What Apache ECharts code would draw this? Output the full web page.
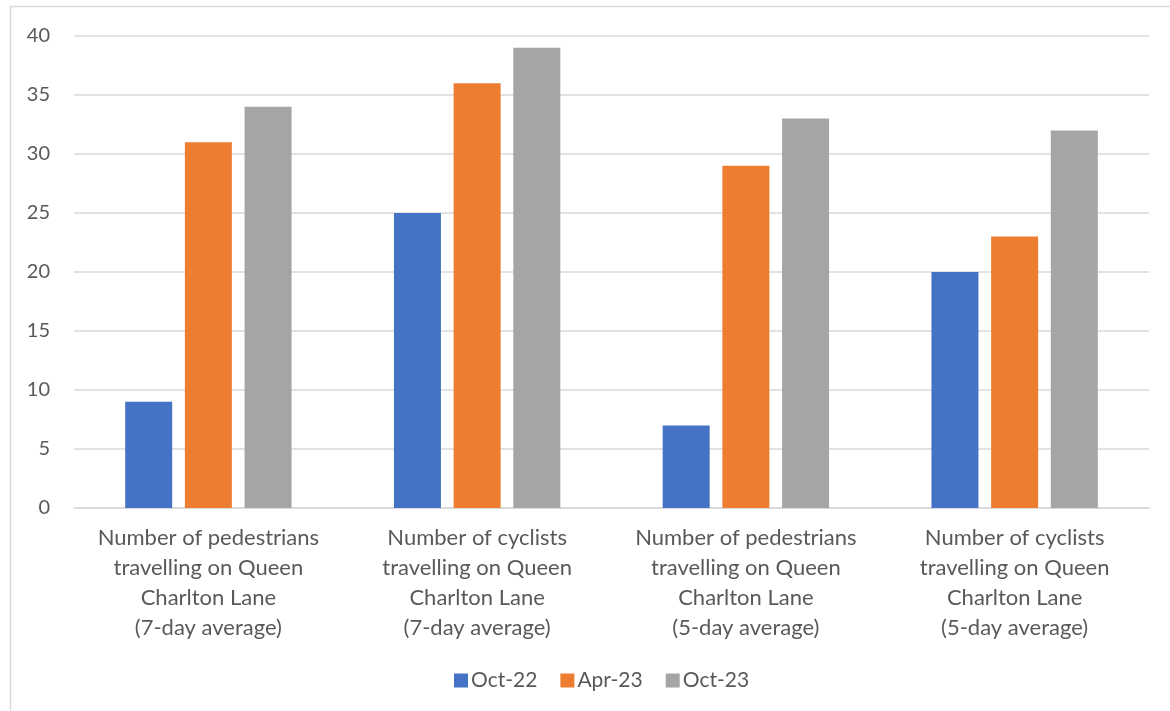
<!DOCTYPE html>
<html>
<head>
<meta charset="utf-8">
<script src="https://cdn.jsdelivr.net/npm/echarts@6/dist/echarts.min.js"></script>
<style>
  html, body { margin: 0; padding: 0; background: #fff; }
  #chart { width: 1170px; height: 711px; }
</style>
</head>
<body>
<div id="chart"></div>
<script>
// Queen Charlton Lane counts, by survey period
const categories = [
  'Number of pedestrians\ntravelling on Queen\nCharlton Lane\n(7-day average)',
  'Number of cyclists\ntravelling on Queen\nCharlton Lane\n(7-day average)',
  'Number of pedestrians\ntravelling on Queen\nCharlton Lane\n(5-day average)',
  'Number of cyclists\ntravelling on Queen\nCharlton Lane\n(5-day average)'
];
const seriesNames = ['Oct-22', 'Apr-23', 'Oct-23'];
const oct22 = [9, 25, 7, 20];
const apr23 = [31, 36, 29, 23];
const oct23 = [34, 39, 33, 32];
const colors = ['#4472C4', '#ED7D31', '#A5A5A5'];

const font = 'Lato, "Open Sans", "Liberation Sans", sans-serif';
const chart = echarts.init(document.getElementById('chart'));

const values = [oct22, apr23, oct23];
chart.setOption({
  animation: false,
  color: colors,
  textStyle: { fontFamily: font, color: '#595959' },
  graphic: [{
    type: 'rect',
    shape: { x: 10.5, y: 6.5, width: 1200, height: 800 },
    style: { fill: 'none', stroke: '#d9d9d9', lineWidth: 1.5 },
    silent: true
  }],
  grid: { left: 74, right: 21, top: 36, bottom: 203 },
  legend: {
    bottom: 15,
    left: 449,
    itemWidth: 14,
    itemHeight: 14,
    itemGap: 23,
    icon: 'rect',
    textStyle: { fontFamily: font, fontSize: 21, color: '#595959', padding: [0, 0, 0, -2] },
    data: seriesNames
  },
  xAxis: {
    type: 'category',
    data: categories,
    axisLine: { lineStyle: { color: '#d9d9d9', width: 1.5 } },
    axisTick: { show: false },
    axisLabel: {
      interval: 0,
      margin: 15,
      fontFamily: font,
      fontSize: 22,
      lineHeight: 30,
      color: '#595959'
    }
  },
  yAxis: {
    type: 'value',
    min: 0,
    max: 40,
    interval: 5,
    axisLine: { show: false },
    axisTick: { show: false },
    splitLine: { lineStyle: { color: '#d9d9d9', width: 1.5 } },
    axisLabel: { margin: 24, fontFamily: font, fontSize: 20, color: '#595959' }
  },
  series: seriesNames.map((name, i) => ({
    name,
    type: 'bar',
    data: values[i],
    barWidth: 47,
    barGap: '27%',
    itemStyle: { color: colors[i] }
  }))
});
</script>
</body>
</html>
